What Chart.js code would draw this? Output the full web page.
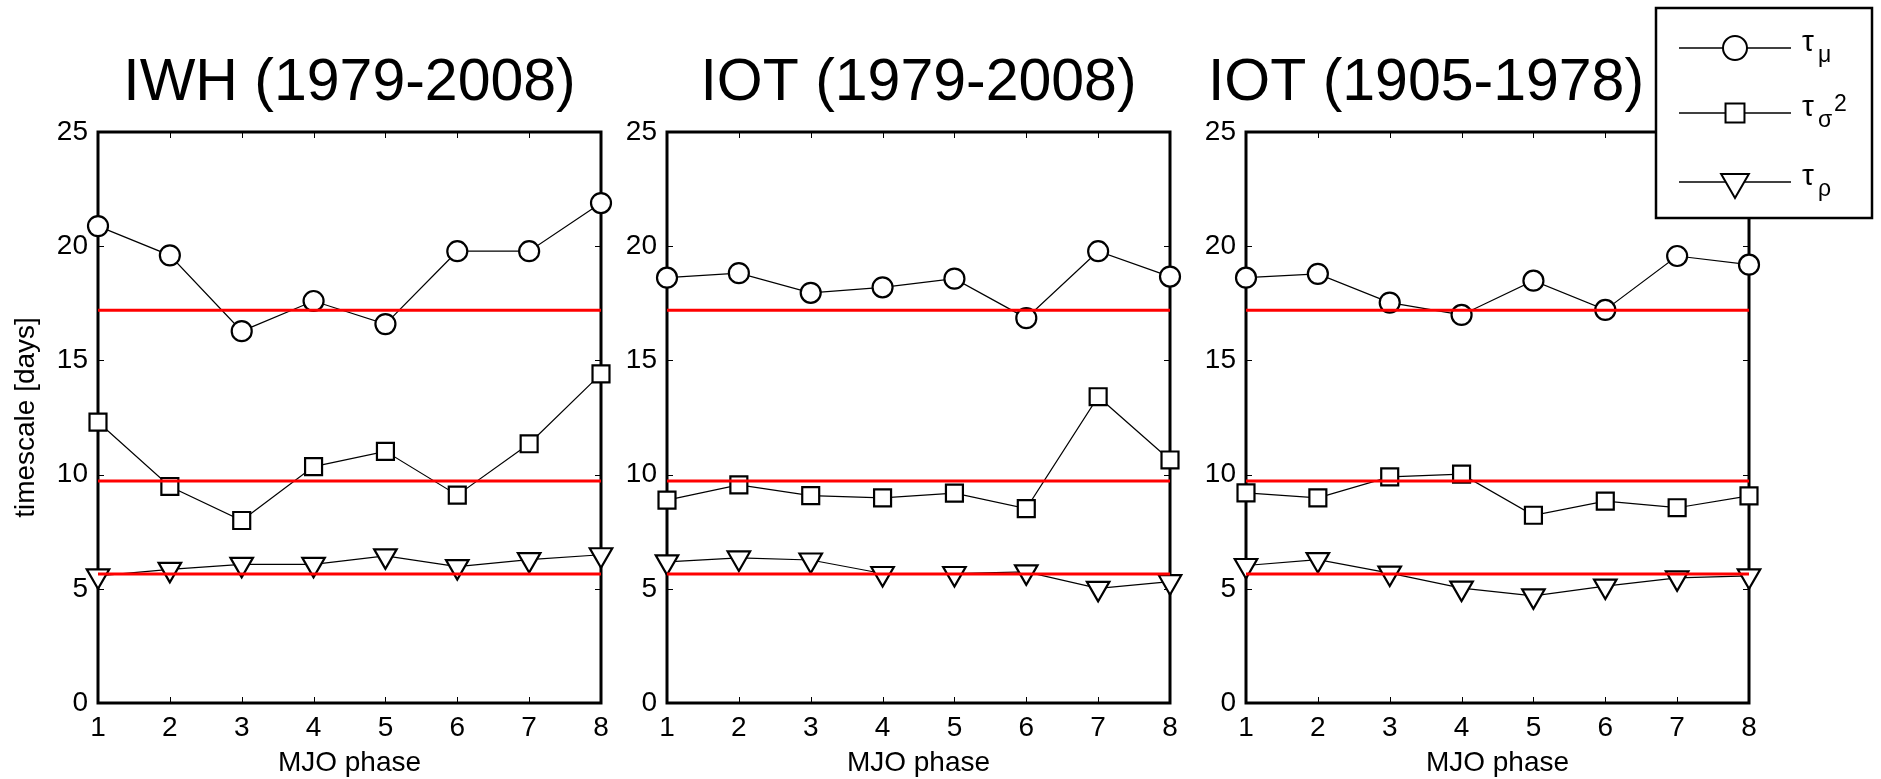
<!DOCTYPE html>
<html>
<head>
<meta charset="utf-8">
<title>MJO phase timescales</title>
<script src="https://cdn.jsdelivr.net/npm/chart.js@4.4.1/dist/chart.umd.min.js"></script>
<style>
  html, body { margin: 0; padding: 0; background: #fff; }
  body { width: 1881px; height: 779px; position: relative; overflow: hidden; }
  canvas { position: absolute; top: 0; }
</style>
</head>
<body>
<canvas id="iwh" width="702" height="779" style="left:0px"></canvas>
<canvas id="iot1" width="608" height="779" style="left:607px"></canvas>
<canvas id="iot2" width="669" height="779" style="left:1103px"></canvas>
<canvas id="key" width="241" height="230" style="left:1640px"></canvas>
<script>
const phases = [1, 2, 3, 4, 5, 6, 7, 8];
const yTicks = [0, 5, 10, 15, 20, 25];
const meanLevels = [17.2, 9.72, 5.65];   // red reference levels, same in every panel
const titles = ['IWH (1979-2008)', 'IOT (1979-2008)', 'IOT (1905-1978)'];

// IWH 1979-2008
const iwhMu = [20.88, 19.6, 16.28, 17.6, 16.59, 19.78, 19.78, 21.89];
const iwhSigma2 = [12.3, 9.48, 7.99, 10.35, 11.02, 9.1, 11.35, 14.41];
const iwhRho = [5.57, 5.85, 6.07, 6.07, 6.44, 5.97, 6.28, 6.49];

// IOT 1979-2008
const iotMu = [18.62, 18.82, 17.96, 18.2, 18.58, 16.85, 19.78, 18.67];
const iotSigma2 = [8.88, 9.55, 9.08, 8.98, 9.19, 8.51, 13.41, 10.64];
const iotRho = [6.18, 6.35, 6.26, 5.67, 5.67, 5.74, 5.02, 5.31];

// IOT 1905-1978
const oldMu = [18.62, 18.79, 17.53, 16.99, 18.49, 17.21, 19.57, 19.19];
const oldSigma2 = [9.2, 8.98, 9.9, 10.02, 8.22, 8.84, 8.55, 9.07];
const oldRho = [6.02, 6.28, 5.69, 5.03, 4.69, 5.12, 5.48, 5.57];

const FONT = "'Liberation Sans', Arial, Helvetica, sans-serif";
Chart.defaults.color = '#000';
Chart.defaults.font.family = FONT;

// box frame plus short inward ticks on all four sides
const frameTicks = {
    id: 'frameTicks',
    beforeDatasetsDraw(chart) {
        const { ctx, chartArea: a, scales } = chart;
        const x = scales.x;
        const y = scales.y;
        const len = 6;
        ctx.save();
        ctx.strokeStyle = '#000';
        ctx.lineWidth = 1;
        ctx.beginPath();
        x.ticks.forEach((t) => {
            const px = Math.round(x.getPixelForValue(t.value)) + 0.5;
            ctx.moveTo(px, a.bottom);
            ctx.lineTo(px, a.bottom - len);
            ctx.moveTo(px, a.top);
            ctx.lineTo(px, a.top + len);
        });
        y.ticks.forEach((t) => {
            const py = Math.round(y.getPixelForValue(t.value)) + 0.5;
            ctx.moveTo(a.left, py);
            ctx.lineTo(a.left + len, py);
            ctx.moveTo(a.right, py);
            ctx.lineTo(a.right - len, py);
        });
        ctx.stroke();
        ctx.lineWidth = 3;
        ctx.strokeRect(a.left, a.top, a.right - a.left, a.bottom - a.top);
        ctx.restore();
    },
};

const seriesSet = (label, values, style, radius, rotation) => ({
    label: label,
    data: phases.map((p, i) => ({ x: p, y: values[i] })),
    borderColor: '#000',
    borderWidth: 1.2,
    pointStyle: style,
    pointRadius: radius,
    pointHoverRadius: radius,
    pointRotation: rotation,
    pointBackgroundColor: '#fff',
    pointBorderColor: '#000',
    pointBorderWidth: 2.2,
    tension: 0,
    clip: false,
    order: 1,
});

const meanSet = (level) => ({
    label: 'mean',
    data: [{ x: phases[0], y: level }, { x: phases[phases.length - 1], y: level }],
    borderColor: '#ff0000',
    borderWidth: 3,
    pointRadius: 0,
    clip: false,
    order: 0,
});

const makePanel = (id, title, mu, sigma2, rho, yWidth, padRight, yTitle, titleFull) => {
    return new Chart(document.getElementById(id), {
        type: 'line',
        data: {
            datasets: [
                ...meanLevels.map(meanSet),
                seriesSet('τμ', mu, 'circle', 10, 0),
                seriesSet('τσ2', sigma2, 'rect', 12, 0),
                seriesSet('τρ', rho, 'triangle', 13, 180),
            ],
        },
        options: {
            responsive: false,
            animation: false,
            events: [],
            layout: { padding: { left: 0, right: padRight, top: 0, bottom: 0 } },
            plugins: {
                legend: { display: false },
                tooltip: { enabled: false },
                title: {
                    display: true,
                    fullSize: titleFull,
                    text: title,
                    color: '#000',
                    font: { family: FONT, size: 59, weight: 'normal', lineHeight: 1.2 },
                    padding: { top: 48, bottom: 13.2 },
                },
            },
            scales: {
                x: {
                    type: 'linear',
                    min: phases[0],
                    max: phases[phases.length - 1],
                    afterBuildTicks: (s) => { s.ticks = phases.map((v) => ({ value: v })); },
                    afterFit: (s) => { s.height = 76; },
                    ticks: { padding: 8, maxRotation: 0, autoSkip: false, font: { size: 28, lineHeight: 1.2 } },
                    grid: { display: false, drawTicks: false },
                    border: { display: false },
                    title: {
                        display: true,
                        text: 'MJO phase',
                        font: { size: 28, lineHeight: 1.1 },
                        padding: 0,
                    },
                },
                y: {
                    type: 'linear',
                    min: yTicks[0],
                    max: yTicks[yTicks.length - 1],
                    afterBuildTicks: (s) => { s.ticks = yTicks.map((v) => ({ value: v })); },
                    afterFit: (s) => { s.width = yWidth; },
                    ticks: { padding: 10, font: { size: 28, lineHeight: 1.2 } },
                    grid: { display: false, drawTicks: false },
                    border: { display: false },
                    title: {
                        display: yTitle,
                        text: 'timescale [days]',
                        font: { size: 28, lineHeight: 1 },
                        padding: { top: 12, bottom: 0 },
                    },
                },
            },
        },
        plugins: [frameTicks],
    });
};

makePanel('iwh', titles[0], iwhMu, iwhSigma2, iwhRho, 98, 101, true, false);
makePanel('iot1', titles[1], iotMu, iotSigma2, iotRho, 60, 45, false, false);
makePanel('iot2', titles[2], oldMu, oldSigma2, oldRho, 143, 23, false, true);

// legend box, top right
const keyStyles = [
    { pointStyle: 'circle', radius: 12, rotation: 0, borderWidth: 2 },
    { pointStyle: 'rect', radius: 13.4, rotation: 0, borderWidth: 2 },
    { pointStyle: 'triangle', radius: 16, rotation: 180, borderWidth: 2 },
];
const keySubs = ['μ', 'σ', 'ρ'];
const keySups = ['', '2', ''];
const keyRows = [48, 113, 182];

const drawKey = () => {
    const ctx = document.getElementById('key').getContext('2d');
    ctx.fillStyle = '#fff';
    ctx.fillRect(16, 8, 216, 210);
    ctx.strokeStyle = '#000';
    ctx.lineWidth = 2.5;
    ctx.strokeRect(16, 8, 216, 210);

    keyRows.forEach((y, i) => {
        ctx.strokeStyle = '#000';
        ctx.lineWidth = 1.5;
        ctx.beginPath();
        ctx.moveTo(39, y);
        ctx.lineTo(151, y);
        ctx.stroke();

        ctx.fillStyle = '#fff';
        ctx.lineWidth = 2;
        Chart.helpers.drawPoint(ctx, keyStyles[i], 95, y);

        ctx.fillStyle = '#000';
        ctx.textBaseline = 'alphabetic';
        ctx.font = `30px ${FONT}`;
        ctx.fillText('τ', 162, y + 3);
        ctx.font = `23px ${FONT}`;
        ctx.fillText(keySubs[i], 178, y + 14);
        if (keySups[i]) ctx.fillText(keySups[i], 194, y - 2);
    });
};
drawKey();
</script>
</body>
</html>
